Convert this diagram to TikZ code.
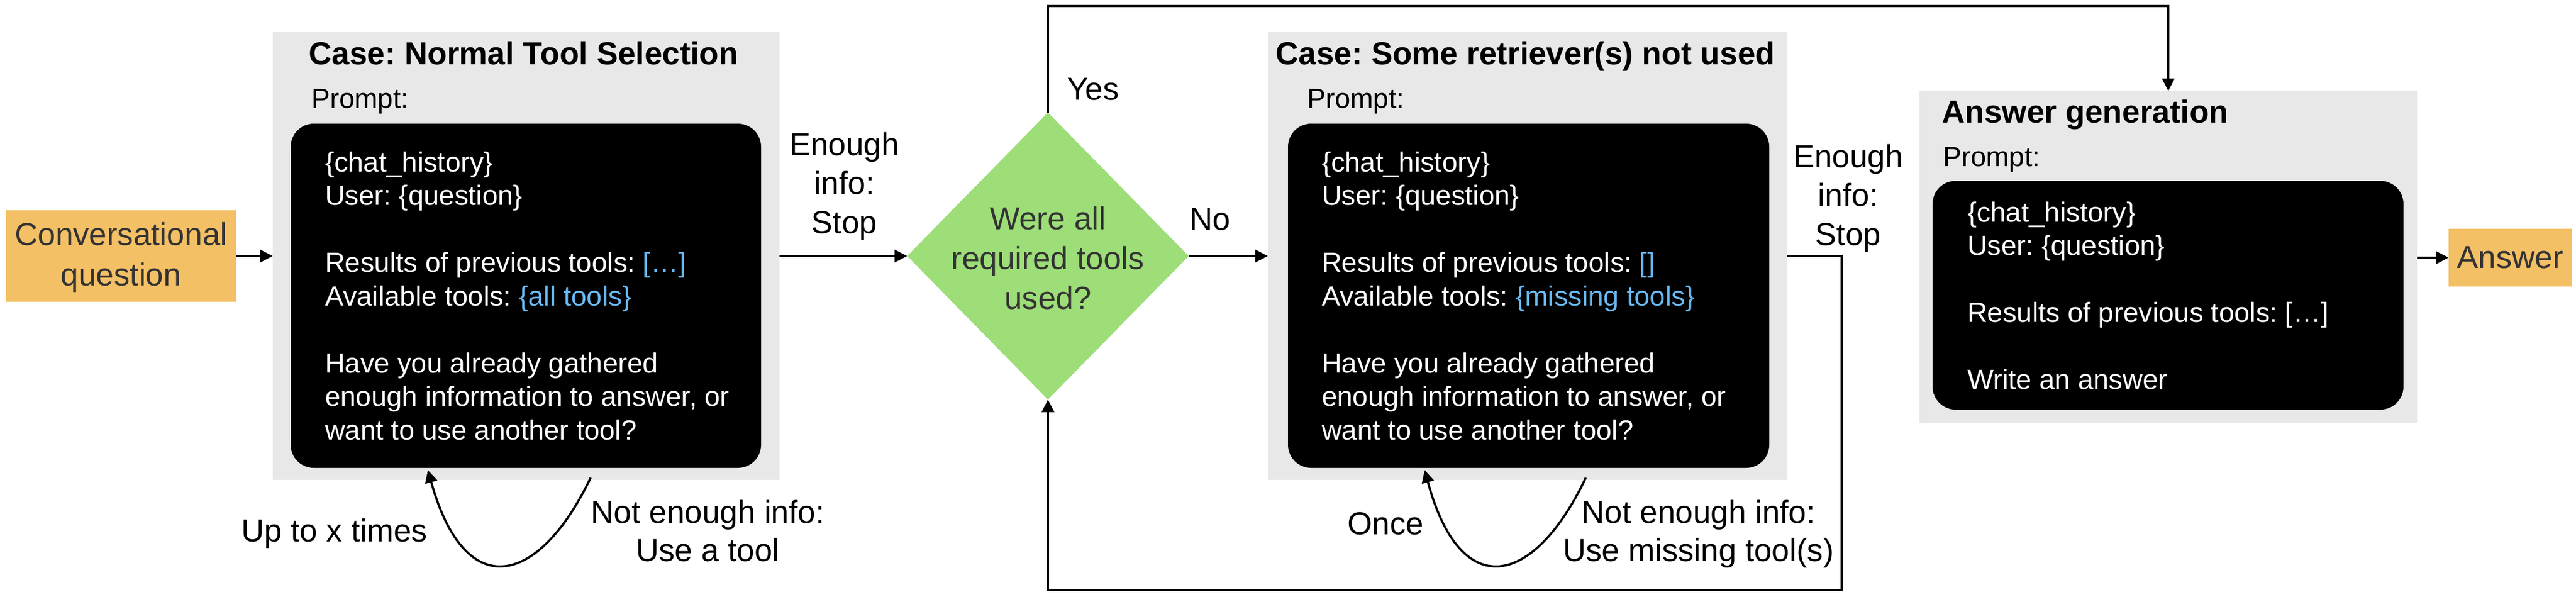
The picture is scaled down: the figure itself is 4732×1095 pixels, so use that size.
\documentclass[tikz,border=0pt]{standalone}
\usepackage{fontspec}
\setmainfont{Liberation Sans}
\usetikzlibrary{arrows.meta,shapes.geometric,fit}
\definecolor{boxgray}{HTML}{E8E8E8}
\definecolor{qorange}{HTML}{F4C065}
\definecolor{dgreen}{HTML}{9DDE78}
\definecolor{tblue}{HTML}{68B9F2}
\definecolor{dtext}{HTML}{333333}
\newcommand{\bigf}{\fontsize{11.7}{14.3}\selectfont}
\newcommand{\bodyf}{\fontsize{10.2}{12.3}\selectfont}
\frenchspacing
\begin{document}
\begin{tikzpicture}[x=0.2pt,y=-0.2pt,
  graybox/.style={fill=boxgray, inner sep=0, outer sep=0},
  blackbox/.style={fill=black, rounded corners=8.5pt, inner sep=0, outer sep=0},
  obox/.style={fill=qorange, inner sep=0, outer sep=0},
  otext/.style={inner sep=0, outer sep=0, text=dtext, anchor=center},
  txt/.style={inner sep=0, outer sep=0},
  title/.style={txt, font=\bigf\bfseries},
  prm/.style={txt, font=\bodyf, anchor=base west},
  body/.style={txt, font=\bodyf, text=white, anchor=base west},
  lbl/.style={txt, font=\bigf},
  arr/.style={draw, line width=0.8pt, -{Triangle[length=4.6pt,width=4.5pt]}},
  conn/.style={draw, line width=0.8pt}]
\frenchspacing
\useasboundingbox (0,0) rectangle (4732,1095);

% input
\node[obox, fit={(11,386) (434,554)}] (conv) {};
\node[otext, font={\fontsize{11.7}{14.8}\selectfont}] (convt) at ([yshift=-0.6pt]conv.center) {\begin{tabular}{@{}c@{}}Conversational\\question\end{tabular}};

% case 1
\node[graybox, fit={(501,59) (1432,881)}] (g1) {};
\node[title, anchor=base] (t1) at (962,118) {\frenchspacing Case: Normal Tool Selection};
\node[prm] (p1) at (572,198) {Prompt:};
\node[blackbox, fit={(534,227) (1398,859)}] (b1) {};
\node[body] (x1) at (597,315) {\frenchspacing\begin{tabular}[t]{@{}l@{}}
\{chat\_history\}\\
User: \{question\}\\
\\
Results of previous tools: \textcolor{tblue}{[…]}\\
Available tools: \textcolor{tblue}{\{all tools\}}\\
\\
Have you already gathered\\
enough information to answer, or\\
want to use another tool?
\end{tabular}};

% decision
\node[diamond, fill=dgreen, inner sep=0, outer sep=0, minimum width=103.4pt, minimum height=105.4pt] (dia) at (1925,470) {};
\node[txt, text=dtext, anchor=base, font={\fontsize{11.7}{14.6}\selectfont}] (diat) at (1925,421) {\begin{tabular}[t]{@{}c@{}}Were all\\required tools\\used?\end{tabular}};

% case 2
\node[graybox, fit={(2329,59) (3283,881)}] (g2) {};
\node[title, anchor=base] (t2) at (2802,118) {\frenchspacing Case: Some retriever(s) not used};
\node[prm] (p2) at (2401,198) {Prompt:};
\node[blackbox, fit={(2366,227) (3250,859)}] (b2) {};
\node[body] (x2) at (2428,315) {\frenchspacing\begin{tabular}[t]{@{}l@{}}
\{chat\_history\}\\
User: \{question\}\\
\\
Results of previous tools: \textcolor{tblue}{[]}\\
Available tools: \textcolor{tblue}{\{missing tools\}}\\
\\
Have you already gathered\\
enough information to answer, or\\
want to use another tool?
\end{tabular}};

% answer generation
\node[graybox, fit={(3526,167) (4440,777)}] (g3) {};
\node[title, anchor=base west] (t3) at (3567,225) {Answer generation};
\node[prm] (p3) at (3569,305) {Prompt:};
\node[blackbox, fit={(3550,332) (4415,752)}] (b3) {};
\node[body] (x3) at (3614,407) {\frenchspacing\begin{tabular}[t]{@{}l@{}}
\{chat\_history\}\\
User: \{question\}\\
\\
Results of previous tools: […]\\
\\
Write an answer
\end{tabular}};

\node[obox, fit={(4498,420) (4724,526)}] (ans) {};
\node[otext, font=\bigf] (anst) at (ans.center) {Answer};

% straight connectors
\draw[arr] (conv) -- (g1);
\draw[arr] (g1) -- (dia);
\draw[arr] (dia) -- (g2);
\draw[arr] (g3.east |- ans) -- (ans.west);

\coordinate (topy) at (0,11);
\coordinate (rx) at (3383,0);
\coordinate (boty) at (0,1083);
\draw[arr] (dia.north) -- (dia.north |- topy) -| (g3.north);
\draw[arr] (g2.east) -- (g2.east -| rx) -- (rx |- boty) -- (dia.south |- boty) -- (dia.south);

% self loops
\coordinate (l1s) at (1085,877);
\coordinate (l1e) at (786,863);
\draw[arr] (l1s) .. controls (990,1075) and (855,1110) .. (l1e);
\coordinate (l2s) at (2913,877);
\coordinate (l2e) at (2617,863);
\draw[arr] (l2s) .. controls (2819,1075) and (2684,1110) .. (l2e);

% labels
\node[lbl, anchor=base] (e1) at (1551,285) {\begin{tabular}[t]{@{}c@{}}Enough\\info:\\Stop\end{tabular}};
\node[lbl, anchor=base] (e2) at (3395,307) {\begin{tabular}[t]{@{}c@{}}Enough\\info:\\Stop\end{tabular}};
\node[lbl, anchor=base west] (yes) at (1960,183) {Yes};
\node[lbl, anchor=base west] (no) at (2185,422) {No};
\node[lbl, anchor=base east] (upto) at (785,994) {Up to x times};
\node[lbl, anchor=base, font={\fontsize{11.7}{14}\selectfont}] (ne1) at (1300,960) {\begin{tabular}[t]{@{}c@{}}Not enough info:\\Use a tool\end{tabular}};
\node[lbl, anchor=base east] (once) at (2615,981) {Once};
\node[lbl, anchor=base, font={\fontsize{11.7}{14}\selectfont}] (ne2) at (3120,960) {\begin{tabular}[t]{@{}c@{}}Not enough info:\\Use missing tool(s)\end{tabular}};
\end{tikzpicture}
\end{document}
